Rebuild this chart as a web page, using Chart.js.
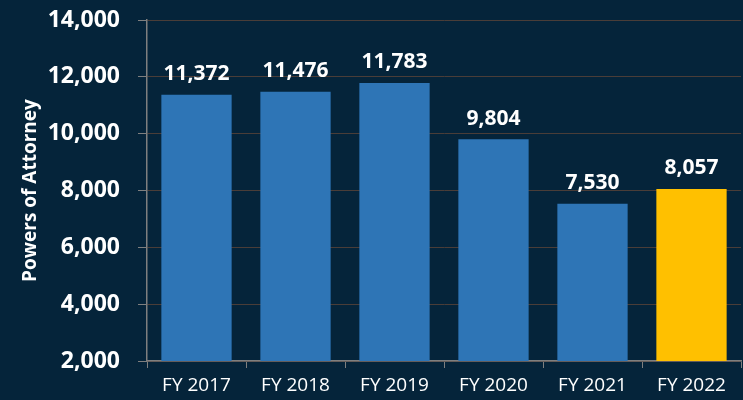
<!DOCTYPE html>
<html>
<head>
<meta charset="utf-8">
<script src="https://cdn.jsdelivr.net/npm/chart.js@4"></script>
<style>
  html, body { margin: 0; padding: 0; background: #05243a; }
  #wrap { width: 743px; height: 400px; }
</style>
</head>
<body>
<div id="wrap"><canvas id="poaChart" width="743" height="400"></canvas></div>
<script>
const fiscalYears = ["FY 2017", "FY 2018", "FY 2019", "FY 2020", "FY 2021", "FY 2022"];
const powersOfAttorney = [11372, 11476, 11783, 9804, 7530, 8057];
const barColors = ["#2e75b6", "#2e75b6", "#2e75b6", "#2e75b6", "#2e75b6", "#ffc000"];
const yTicks = [2000, 4000, 6000, 8000, 10000, 12000, 14000];

const fontFamily = "'Open Sans', 'Noto Sans', sans-serif";

function numberFormat(value) {
  return new Intl.NumberFormat("en-US").format(value);
}

// draws the value above each bar
const valueLabels = {
  id: "valueLabels",
  afterDatasetsDraw(chart) {
    const ctx = chart.ctx;
    const meta = chart.getDatasetMeta(0);
    ctx.save();
    ctx.fillStyle = "#ffffff";
    ctx.font = `bold 21px ${fontFamily}`;
    ctx.textAlign = "center";
    ctx.textBaseline = "bottom";
    meta.data.forEach((bar, i) => {
      ctx.fillText(numberFormat(powersOfAttorney[i]), bar.x, bar.y - 10);
    });
    ctx.restore();
  }
};

new Chart(document.getElementById("poaChart"), {
  type: "bar",
  data: {
    labels: fiscalYears,
    datasets: [
      {
        data: powersOfAttorney,
        backgroundColor: barColors,
        borderWidth: 0,
        categoryPercentage: 0.71,
        barPercentage: 1
      }
    ]
  },
  options: {
    responsive: false,
    animation: false,
    layout: { padding: { top: 0, right: 2, left: 19, bottom: 0 } },
    plugins: {
      legend: { display: false },
      tooltip: { enabled: false }
    },
    scales: {
      x: {
        afterFit: (scale) => {
          scale.height = 39;
        },
        grid: {
          drawOnChartArea: false,
          drawTicks: true,
          tickLength: 7,
          tickColor: "#7f7f7f"
        },
        border: { color: "#7f7f7f", width: 1.5 },
        ticks: {
          color: "#ffffff",
          font: { family: fontFamily, size: 19 },
          padding: 6
        }
      },
      y: {
        min: 2000,
        max: 14000,
        afterBuildTicks: (axis) => {
          axis.ticks = yTicks.map((value) => ({ value }));
        },
        afterFit: (scale) => {
          scale.width = 128;
          scale.paddingTop = 20;
          scale.paddingBottom = 0;
        },
        grid: {
          color: "#4a3d38",
          lineWidth: 1,
          tickLength: 9,
          tickColor: "#7f7f7f"
        },
        border: { color: "#7f7f7f", width: 1.5 },
        ticks: {
          color: "#ffffff",
          font: { family: fontFamily, size: 23, weight: "bold" },
          padding: 18,
          callback: (value) => numberFormat(value)
        },
        title: {
          display: true,
          text: "Powers of Attorney",
          color: "#ffffff",
          font: { family: fontFamily, size: 19, weight: "bold" },
          padding: { top: 0, bottom: 0 }
        }
      }
    }
  },
  plugins: [valueLabels]
});
</script>
</body>
</html>
